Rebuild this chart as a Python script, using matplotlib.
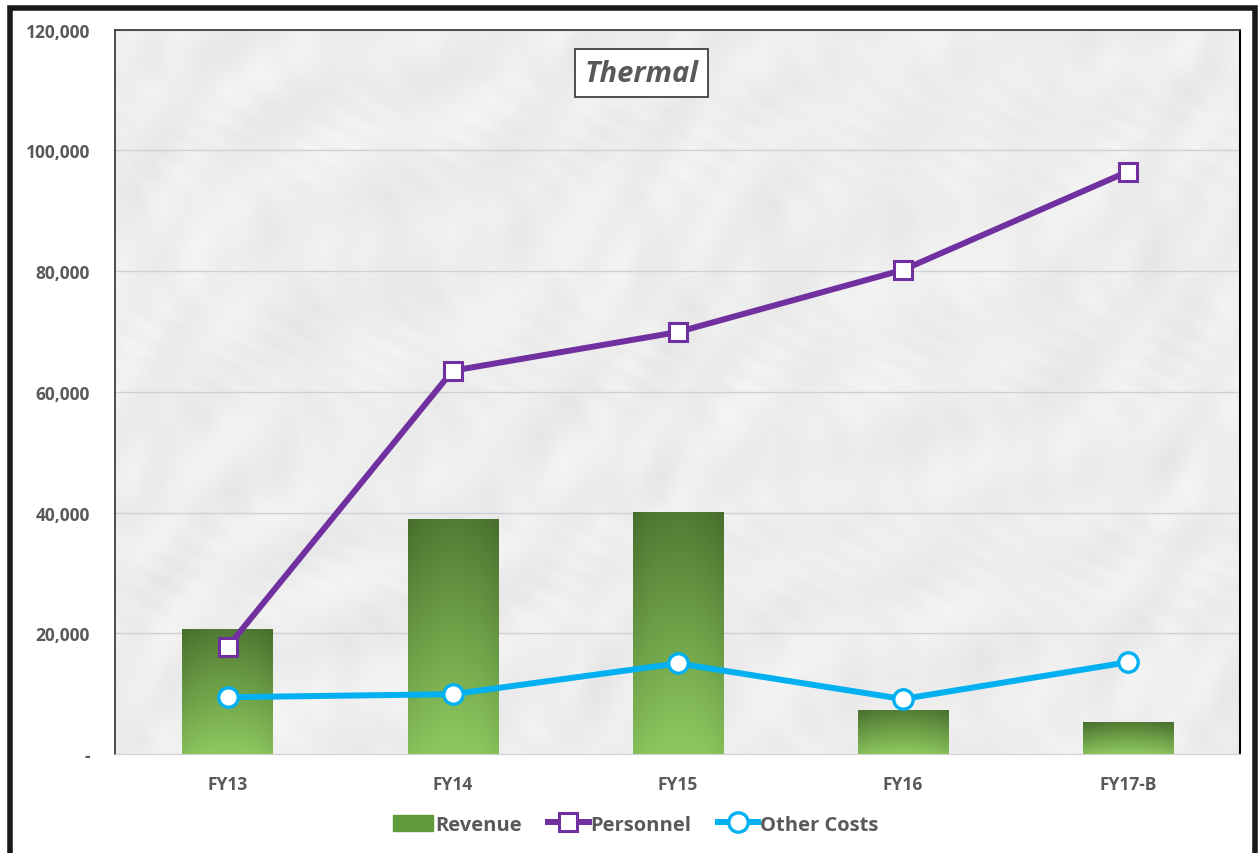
import numpy as np
import matplotlib.pyplot as plt
from matplotlib.patches import Rectangle
from matplotlib.lines import Line2D
from matplotlib.ticker import FuncFormatter

plt.rcParams['font.family'] = ['Open Sans', 'DejaVu Sans']

# data
years = ['FY13', 'FY14', 'FY15', 'FY16', 'FY17-B']
revenue = [20700, 39000, 40100, 7300, 5300]
personnel = [17700, 63500, 69900, 80200, 96500]
other_costs = [9400, 9900, 15000, 9100, 15200]

grey = '#595959'
purple = '#7030a0'
cyan = '#00b0f0'

fig = plt.figure(figsize=(12.59, 8.54), dpi=100)
ax = fig.add_axes([0.0913, 0.116, 0.894, 0.848])

x = np.arange(len(years))
ax.set_xlim(-0.5, len(years) - 0.5)
ax.set_ylim(0, 120000)

# marble-ish background (just a soft texture)
gx, gy = np.meshgrid(np.linspace(0, 1, 800), np.linspace(0, 1, 500))
tex = (np.sin(37 * gx + 23 * gy + 3 * np.sin(9 * gy)) * np.sin(19 * gx - 11 * gy)
       + 0.6 * np.sin(61 * gx + 41 * gy + 4 * np.sin(13 * gx))
       + 0.5 * np.sin(140 * gx - 90 * gy + 5 * np.sin(21 * gy)) * np.sin(27 * gx + 17 * gy))
bg = 0.93 + 0.03 * tex / np.abs(tex).max()
ax.imshow(bg, cmap='gray', vmin=0, vmax=1, extent=[-0.5, len(years) - 0.5, 0, 120000],
          aspect='auto', zorder=0, interpolation='bilinear')

for yv in range(20000, 120001, 20000):
    ax.axhline(yv, color='#d0d0d0', lw=1, zorder=1)

# bars with green gradient
bw = 0.40
bars = ax.bar(x, revenue, width=bw, color='none', zorder=2)
u, v = np.meshgrid(np.linspace(-1, 1, 60), np.linspace(0, 1, 200))
dark = np.array([0x47, 0x6e, 0x2c]) / 255
light = np.array([0x8c, 0xc6, 0x5e]) / 255
for b in bars:
    h = b.get_height()
    # dark at top, light at bottom with a glow at bottom-centre
    w = np.clip((1 - v) * 0.9 + 0.15 * (1 - u ** 2), 0, 1)[..., None]
    img = dark * (1 - w) + light * w
    im = ax.imshow(img, origin='lower', extent=[b.get_x(), b.get_x() + bw, 0, h],
                   aspect='auto', zorder=2, interpolation='bilinear')
    im.set_clip_path(b)

ax.plot(x, personnel, color=purple, lw=4.3, marker='s', ms=12.5, mfc='white',
        mec=purple, mew=2.2, zorder=4)
ax.plot(x, other_costs, color=cyan, lw=4.3, marker='o', ms=14, mfc='white',
        mec=cyan, mew=2.4, zorder=4)

ax.set_yticks(range(0, 120001, 20000))
ax.yaxis.set_major_formatter(FuncFormatter(lambda v, p: '-' if v == 0 else f'{int(v):,}'))
ax.set_xticks(x)
ax.set_xticklabels(years)
ax.tick_params(length=0, labelcolor=grey)
ax.tick_params(axis='y', pad=18)
ax.tick_params(axis='x', pad=15)
for lab in ax.get_xticklabels() + ax.get_yticklabels():
    lab.set_fontweight('bold')
    lab.set_fontsize(12.5)

for s in ['left', 'top']:
    ax.spines[s].set_color('#404040')
    ax.spines[s].set_linewidth(1.3)
ax.spines['right'].set_color('black')
ax.spines['right'].set_linewidth(1.5)
ax.spines['bottom'].set_color('#d0d0d0')

ax.text(0.468, 0.94, 'Thermal', transform=ax.transAxes, ha='center', va='center',
        fontsize=21, fontweight='bold', style='italic', color=grey, zorder=6,
        bbox=dict(boxstyle='square,pad=0.32', fc='white', ec='#404040', lw=1.3))

handles = [Rectangle((0, 0), 1, 1, color='#5f9a3c'),
           Line2D([], [], color=purple, lw=4.3, marker='s', ms=12.5, mfc='white', mec=purple, mew=2.2),
           Line2D([], [], color=cyan, lw=4.3, marker='o', ms=14, mfc='white', mec=cyan, mew=2.4)]
leg = fig.legend(handles, ['Revenue', 'Personnel', 'Other Costs'], loc='center',
                 bbox_to_anchor=(0.505, 0.033), ncol=3, frameon=False, handlelength=2.0,
                 handleheight=0.9, handletextpad=0.1, columnspacing=1.3,
                 prop={'size': 14.5, 'weight': 'bold'})
for t in leg.get_texts():
    t.set_color(grey)

# outer black frame
fig.patches.append(Rectangle((0.0083, -0.05), 0.9885, 1.04, transform=fig.transFigure,
                             fill=False, ec='#1a1a1a', lw=4))

plt.savefig('out.png', dpi=100)
